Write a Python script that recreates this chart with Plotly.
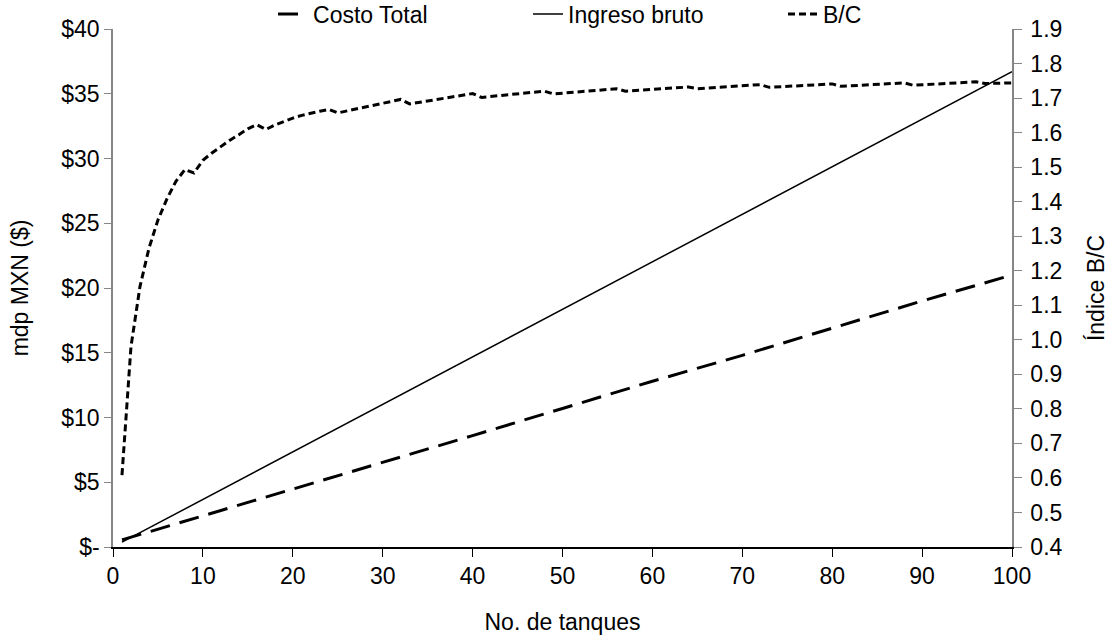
import plotly.graph_objects as go

# ---- data ----
bc_x = [1, 2, 3, 4, 5, 6, 7, 8, 9, 10, 11, 12, 13, 14, 15, 16, 17, 18, 19, 20, 21, 22, 23, 24,
        25, 32, 33, 40, 41, 48, 49, 56, 57, 64, 65, 72, 73, 80, 81, 88, 89, 96, 97, 100]
bc_y = [0.608, 0.98, 1.154, 1.265, 1.347, 1.408, 1.459, 1.493, 1.483, 1.52, 1.541, 1.56, 1.578,
        1.594, 1.611, 1.623, 1.609, 1.622, 1.633, 1.642, 1.650, 1.657, 1.662, 1.667,
        1.657, 1.696, 1.683, 1.713, 1.702, 1.720, 1.712, 1.727, 1.720, 1.732, 1.727, 1.739, 1.731,
        1.741, 1.734, 1.744, 1.737, 1.747, 1.742, 1.744]

costo_x = [1, 10, 20, 30, 40, 50, 60, 70, 80, 90, 100]
costo_y = [0.55, 2.4, 4.5, 6.5, 8.6, 10.7, 12.8, 14.8, 16.9, 19.0, 21.0]

ingreso_x = [1, 100]
ingreso_y = [0.37, 36.7]

left_ticks = [0, 5, 10, 15, 20, 25, 30, 35, 40]
left_labels = ["$-", "$5", "$10", "$15", "$20", "$25", "$30", "$35", "$40"]

FONT = "Liberation Sans, Arial, sans-serif"
FS = 23

fig = go.Figure()
fig.add_trace(go.Scatter(x=costo_x, y=costo_y, mode="lines", name="Costo Total",
                         line=dict(color="black", width=3, dash="20px,10px")))
fig.add_trace(go.Scatter(x=ingreso_x, y=ingreso_y, mode="lines", name="Ingreso bruto",
                         line=dict(color="black", width=1.5)))
fig.add_trace(go.Scatter(x=bc_x, y=bc_y, mode="lines", name="B/C", yaxis="y2",
                         line=dict(color="black", width=3, dash="7px,4px")))

fig.update_layout(
    width=1112, height=640,
    margin=dict(l=113, r=100, t=29, b=93, autoexpand=False),
    paper_bgcolor="white", plot_bgcolor="white",
    font=dict(family=FONT, size=FS, color="black"),
    showlegend=True,
    legend=dict(orientation="h", x=0.178, xanchor="left", y=1.029, yanchor="middle",
                font=dict(size=FS), entrywidth=210, entrywidthmode="pixels",
                bgcolor="rgba(0,0,0,0)", borderwidth=0),
    xaxis=dict(range=[0, 100], tickvals=list(range(0, 101, 10)), showgrid=False, zeroline=False,
               showline=True, linecolor="black", linewidth=1.5, ticks="outside", ticklen=8,
               tickcolor="black", tickfont=dict(size=FS),
               title=dict(text="No. de tanques", font=dict(size=FS), standoff=26)),
    yaxis=dict(range=[0, 40], tickvals=left_ticks, ticktext=left_labels, showgrid=False,
               zeroline=False, showline=True, linecolor="#868686", linewidth=1.5,
               ticks="outside", ticklen=7, tickcolor="#868686", tickfont=dict(size=FS),
               title=dict(text="mdp MXN ($)", font=dict(size=FS), standoff=26)),
    yaxis2=dict(range=[0.4, 1.9], dtick=0.1, tick0=0.4, tickformat=".1f", overlaying="y",
                side="right", showgrid=False, zeroline=False, showline=True,
                linecolor="#868686", linewidth=1.5, ticks="outside", ticklen=8,
                tickcolor="#868686", tickfont=dict(size=FS), ticklabelstandoff=4,
                title=dict(text="Índice B/C", font=dict(size=FS), standoff=26)),
)

fig.write_html("out.html")
